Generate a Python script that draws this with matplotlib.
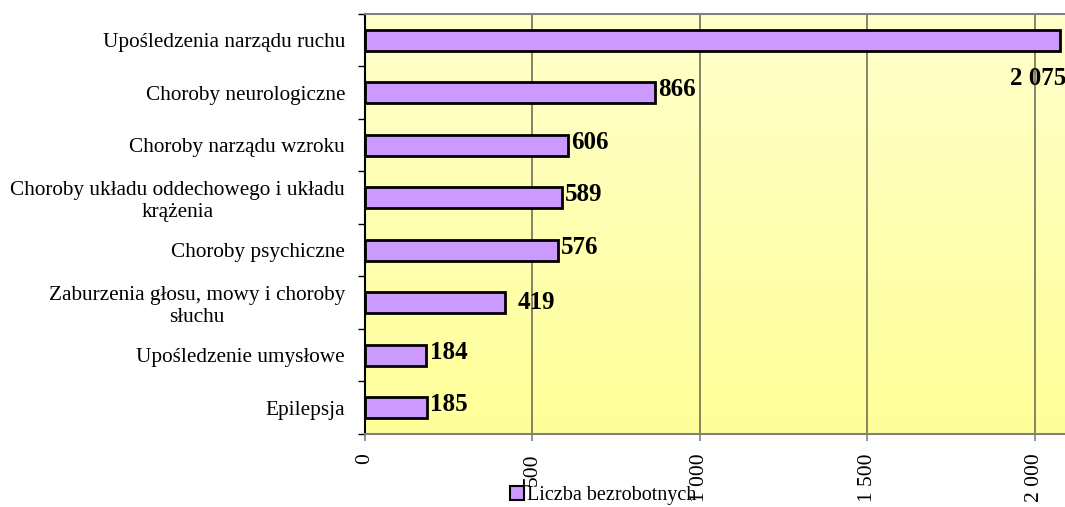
import numpy as np
import matplotlib
matplotlib.use("Agg")
import matplotlib.pyplot as plt
from matplotlib.patches import Patch
from matplotlib.ticker import FuncFormatter, FixedLocator

plt.rcParams['font.family'] = ['Liberation Serif', 'DejaVu Serif']

# data (top to bottom as in the chart)
categories = [
    "Upośledzenia narządu ruchu",
    "Choroby neurologiczne",
    "Choroby narządu wzroku",
    "Choroby układu oddechowego i układu\nkrążenia",
    "Choroby psychiczne",
    "Zaburzenia głosu, mowy i choroby\nsłuchu",
    "Upośledzenie umysłowe",
    "Epilepsja",
]
values = [2075, 866, 606, 589, 576, 419, 184, 185]
series_name = "Liczba bezrobotnych"
x_ticks = [0, 500, 1000, 1500, 2000]

bar_color = "#CC99FF"


def pl_fmt(v):
    return f"{int(v):,}".replace(",", " ")


fig = plt.figure(figsize=(10.65, 5.07), dpi=100)
ax = fig.add_axes([0.3423, 0.144, 0.6606, 0.8284])

n = len(categories)
ypos = np.arange(n)
ax.set_xlim(0, 2100)
ax.set_ylim(n - 0.5, -0.5)

# vertical gradient background, light yellow -> yellow
g = np.linspace(0, 1, 256)[:, None]
top = np.array([255, 255, 204]) / 255
bot = np.array([255, 255, 153]) / 255
img = top[None, None, :] * (1 - g[..., None]) + bot[None, None, :] * g[..., None]
img = np.repeat(img, 2, axis=1)
ax.imshow(img, extent=[0, 2100, n - 0.5, -0.5], aspect='auto',
          zorder=0, interpolation='bilinear')

ax.barh(ypos, values, height=0.4, color=bar_color, edgecolor='black',
        linewidth=2, zorder=3)

# grid
for xv in x_ticks[1:]:
    ax.axvline(xv, color='#6f6f5a', linewidth=1.2, zorder=1)

# value labels
for i, v in enumerate(values):
    if v == max(values):
        ax.text(2095, i + 0.72, pl_fmt(v), ha='right', va='center',
                fontsize=18, fontweight='bold', zorder=4)
    elif v == 419:
        ax.annotate(pl_fmt(v), (v, i), xytext=(9, 0), textcoords='offset points',
                    ha='left', va='center', fontsize=18, fontweight='bold', zorder=4)
    else:
        ax.annotate(pl_fmt(v), (v, i), xytext=(2.5, 2), textcoords='offset points',
                    ha='left', va='center', fontsize=18, fontweight='bold', zorder=4)

# axes styling
ax.set_yticks(ypos)
ax.set_yticklabels(categories, fontsize=15.3, multialignment='center')
ax.yaxis.set_minor_locator(FixedLocator(np.arange(-0.5, n, 1)))
ax.tick_params(axis='y', which='major', length=0, pad=14)
ax.tick_params(axis='y', which='minor', length=5, width=1, color='black')

ax.set_xticks(x_ticks)
ax.xaxis.set_major_formatter(FuncFormatter(lambda v, p: pl_fmt(v)))
ax.tick_params(axis='x', labelsize=15.5, labelrotation=90, length=5, width=1.2,
               color='#808080', pad=9)

ax.spines['top'].set_color('#808080')
ax.spines['bottom'].set_color('#808080')
ax.spines['left'].set_color('black')
ax.spines['right'].set_visible(False)
for s in ax.spines.values():
    s.set_linewidth(1.5)

handle = Patch(facecolor=bar_color, edgecolor='black', linewidth=1.5)
fig.legend([handle], [series_name], loc='center', bbox_to_anchor=(0.566, 0.022),
           frameon=False, fontsize=14.5, handlelength=0.7, handleheight=0.7,
           handletextpad=0.15, borderpad=0)

fig.savefig("out.png", dpi=100)
